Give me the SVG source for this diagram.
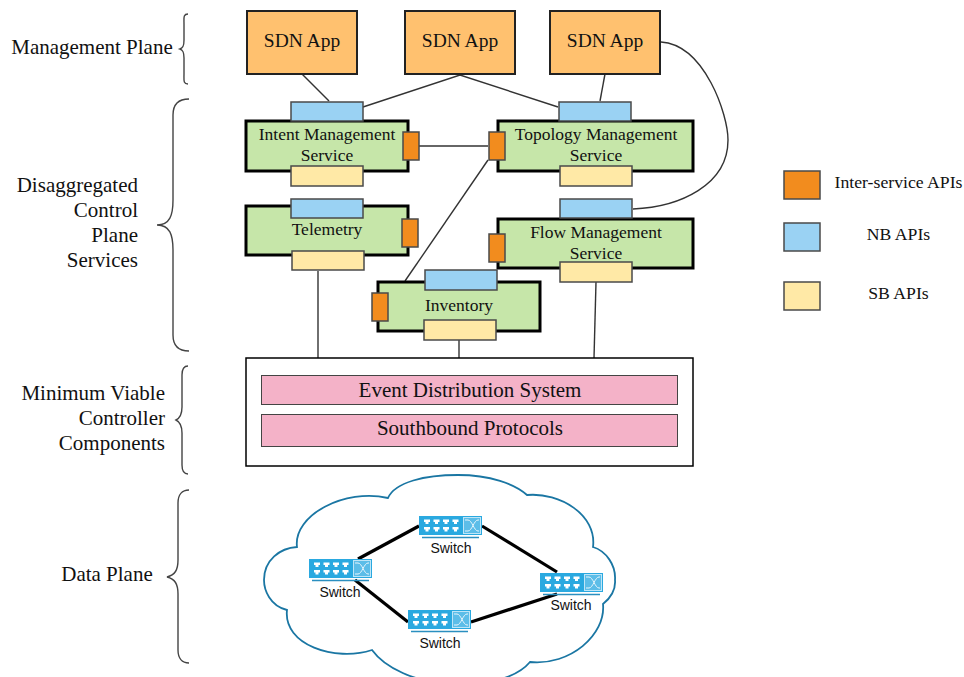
<svg xmlns="http://www.w3.org/2000/svg" width="964" height="677" viewBox="0 0 964 677">
<style>
text{font-family:"Liberation Serif","Times New Roman",serif;fill:#111;text-anchor:middle}
.h{font-size:21px}
.a{font-size:19.500px}
.s{font-size:17.500px}
.l{font-size:17.700px}
.b{font-size:21px}
.sw{font-family:"Liberation Sans",Arial,sans-serif;font-size:14px}
.svc{fill:#c6e6a9;stroke:#000;stroke-width:3}
.app{fill:#ffc16f;stroke:#222;stroke-width:2}
.nb{fill:#9ad2f3;stroke:#4a4a4a;stroke-width:1.500}
.sb{fill:#ffe9a6;stroke:#4a4a4a;stroke-width:1.500}
.ia{fill:#f28c1e;stroke:#4a4a4a;stroke-width:1.500}
.pink{fill:#f4b2c8;stroke:#444;stroke-width:1}
.c{fill:none;stroke:#333;stroke-width:1.400}
.br{fill:none;stroke:#444;stroke-width:1.400}
.link{fill:none;stroke:#000;stroke-width:3.200}
</style>
<defs>
<g id="switch">
<rect x="0" y="0" width="63" height="19" fill="#2aa9e0"/>
<rect x="44.500" y="1.500" width="17" height="16" fill="#5cbde8" stroke="#bfe5f7" stroke-width="1"/>
<path d="M46 4h3c4 0 6 11 10 11h1M46 15h3c4 0 6-11 10-11h1" fill="none" stroke="#e6f5fc" stroke-width="1"/>
<g fill="#fff">
<path d="M5 3.500h6v2.500h-1.500v2h-3v-2h-1.500z"/>
<path d="M14.500 3.500h6v2.500h-1.500v2h-3v-2h-1.500z"/>
<path d="M24 3.500h6v2.500h-1.500v2h-3v-2h-1.500z"/>
<path d="M33.500 3.500h6v2.500h-1.500v2h-3v-2h-1.500z"/>
<path d="M5 11h6v2.500h-1.500v2h-3v-2h-1.500z"/>
<path d="M14.500 11h6v2.500h-1.500v2h-3v-2h-1.500z"/>
<path d="M24 11h6v2.500h-1.500v2h-3v-2h-1.500z"/>
<path d="M33.500 11h6v2.500h-1.500v2h-3v-2h-1.500z"/>
</g>
<path d="M3 21.500H60" stroke="#2a8fc0" stroke-width="1.400"/>
</g>
</defs>
<rect width="964" height="677" fill="#fff"/>

<g id="brackets">
<path class="br" d="M188 14C183 14 184 18 184 24V40C184 46 183 48 180 49C183 50 184 52 184 58V74C184 80 183 84 188 84"/>
<path class="br" d="M189 99C178 99 173 105 173 115V200C173 215 170 225 157 225C170 225 173 235 173 250V335C173 345 178 351 189 351"/>
<path class="br" d="M188 366C184 366 182 369 182 375V407C182 414 180 418 176 420C180 422 182 426 182 433V465C182 471 184 474 188 474"/>
<path class="br" d="M189 490C182 490 178 495 178 503V560C178 570 175 575 167 577C175 579 178 584 178 594V650C178 658 182 663 189 663"/>
</g>

<g id="connectors">
<path class="c" d="M302 74L329 101"/>
<path class="c" d="M363 107L460 75L558 107"/>
<path class="c" d="M605 74L600 101"/>
<path class="c" d="M661 42C705 45 728 115 728 140C728 185 680 207 633 209"/>
<path class="c" d="M419 146H488"/>
<path class="c" d="M488 160L405 281"/>
<path class="c" d="M318 271V358"/>
<path class="c" d="M459 340V358"/>
<path class="c" d="M596 282L594 358"/>
</g>

<g id="app1"><rect class="app" x="247" y="11" width="110" height="63"/><text class="a" x="302" y="47">SDN App</text></g>
<g id="app2"><rect class="app" x="405" y="11" width="110" height="63"/><text class="a" x="460" y="47">SDN App</text></g>
<g id="app3"><rect class="app" x="550" y="11" width="110" height="63"/><text class="a" x="605" y="47">SDN App</text></g>

<g id="intent">
<rect class="svc" x="246" y="121" width="162" height="50"/>
<rect class="nb" x="291" y="102" width="72" height="19"/>
<rect class="sb" x="291" y="166" width="72" height="20"/>
<rect class="ia" x="403" y="132" width="16" height="28"/>
<text class="s" x="327" y="139.500">Intent Management</text>
<text class="s" x="327" y="160.500">Service</text>
</g>
<g id="topology">
<rect class="svc" x="498" y="121" width="195" height="50"/>
<rect class="nb" x="559" y="102" width="72" height="19"/>
<rect class="sb" x="560" y="166" width="72" height="20"/>
<rect class="ia" x="489" y="132" width="16" height="28"/>
<text class="s" x="596" y="139.500">Topology Management</text>
<text class="s" x="596" y="160.500">Service</text>
</g>
<g id="telemetry">
<rect class="svc" x="246" y="206" width="162" height="49"/>
<rect class="nb" x="291" y="199" width="72" height="19"/>
<rect class="sb" x="292" y="251" width="72" height="19"/>
<rect class="ia" x="402" y="219" width="16" height="28"/>
<text class="s" x="327" y="234.500">Telemetry</text>
</g>
<g id="flow">
<rect class="svc" x="498" y="219" width="195" height="49"/>
<rect class="nb" x="560" y="199" width="72" height="19"/>
<rect class="sb" x="560" y="262" width="72" height="20"/>
<rect class="ia" x="489" y="234" width="16" height="28"/>
<text class="s" x="596" y="237.500">Flow Management</text>
<text class="s" x="596" y="258.500">Service</text>
</g>
<g id="inventory">
<rect class="svc" x="378" y="282" width="162" height="49"/>
<rect class="nb" x="425" y="270" width="72" height="20"/>
<rect class="sb" x="424" y="320" width="72" height="20"/>
<rect class="ia" x="372" y="293" width="16" height="28"/>
<text class="s" x="459" y="310.500">Inventory</text>
</g>

<g id="mvc">
<rect x="246" y="358" width="447" height="108" fill="#fff" stroke="#000" stroke-width="1.500"/>
<rect class="pink" x="261.500" y="375.500" width="416" height="29"/>
<text class="b" x="470" y="396.500">Event Distribution System</text>
<rect class="pink" x="261.500" y="414.500" width="416" height="32"/>
<text class="b" x="470" y="434.500">Southbound Protocols</text>
</g>

<g id="labels">
<text class="h" x="92" y="54">Management Plane</text>
<text class="h" style="text-anchor:end" x="138" y="192">Disaggregated</text>
<text class="h" style="text-anchor:end" x="138" y="217">Control</text>
<text class="h" style="text-anchor:end" x="138" y="242">Plane</text>
<text class="h" style="text-anchor:end" x="138" y="267">Services</text>
<text class="h" style="text-anchor:end" x="165" y="400">Minimum Viable</text>
<text class="h" style="text-anchor:end" x="165" y="425">Controller</text>
<text class="h" style="text-anchor:end" x="165" y="450">Components</text>
<text class="h" x="107" y="581">Data Plane</text>
</g>

<g id="legend">
<rect class="ia" x="784" y="171" width="36" height="28"/>
<text class="l" x="898.500" y="188">Inter-service APIs</text>
<rect class="nb" x="784" y="223" width="36" height="28"/>
<text class="l" x="898.500" y="240">NB APIs</text>
<rect class="sb" x="784" y="282" width="36" height="28"/>
<text class="l" x="898.500" y="298.500">SB APIs</text>
</g>

<g id="data-plane">
<path fill="#fff" stroke="#1a76a3" stroke-width="1.800" d="M388 498C395 482 425 475 458 475C490 475 515 484 527 495C560 492 597 515 593 547C606 551 616 565 615 580C616 592 608 600 603 604C606 635 570 666 530 662C515 680 480 686 450 684C415 682 385 668 372 650C335 662 283 645 287 610C270 606 264 590 264 580C264 560 280 548 297 547C293 515 345 488 388 498Z"/>
<path class="link" d="M358 559L419 526"/>
<path class="link" d="M482 526L557 572"/>
<path class="link" d="M355 580L408 622"/>
<path class="link" d="M471 622L557 594"/>
</g>
<g id="switch-top"><use href="#switch" x="419" y="516"/><text class="sw" x="451" y="553">Switch</text></g>
<g id="switch-left"><use href="#switch" x="309" y="559"/><text class="sw" x="340" y="597">Switch</text></g>
<g id="switch-right"><use href="#switch" x="540" y="573"/><text class="sw" x="571" y="610">Switch</text></g>
<g id="switch-bottom"><use href="#switch" x="408" y="610"/><text class="sw" x="440" y="648">Switch</text></g>
</svg>
